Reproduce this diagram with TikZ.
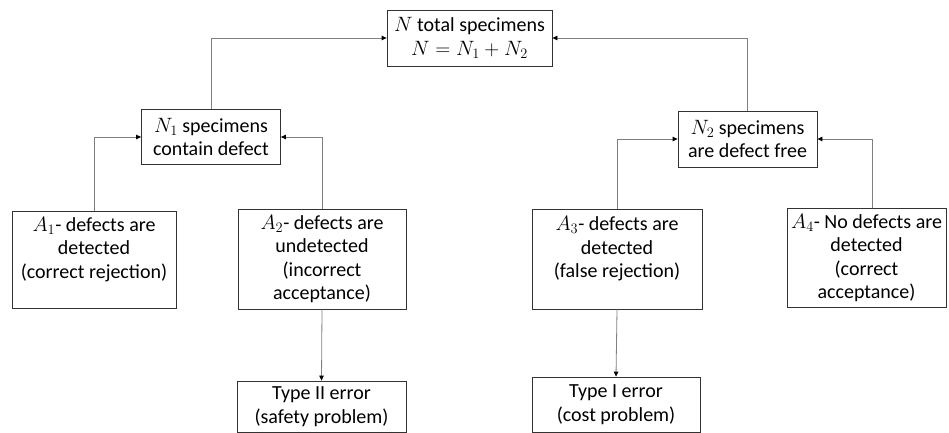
\documentclass[tikz,border=0pt]{standalone}
\usepackage{amsmath,amssymb}
\usepackage{fontspec}
\setmainfont{Carlito}
\usepackage{tikz}
\usetikzlibrary{arrows.meta, positioning, calc}

\begin{document}
\begin{tikzpicture}[
        x=1pt, y=-1pt,
        box/.style={draw=black!80, line width=0.8pt, align=center, inner sep=2pt, font=\fontsize{20}{23.5}\selectfont},
        link/.style={draw=black!50, line width=0.8pt, -{Triangle[length=5pt, width=4.5pt, color=black]}}
    ]
        \useasboundingbox (0,0) rectangle (949,433);

        \node[box, minimum width=165pt, minimum height=56pt] (total) at (469.5,38) {$N$ total specimens\\$N=N_1+N_2$};
        \node[box, minimum width=139pt, minimum height=55pt] (n1) at (211,137) {$N_1$ specimens\\contain defect};
        \node[box, minimum width=139pt, minimum height=56pt] (n2) at (747.5,139) {$N_2$ specimens\\are defect free};

        \node[box, minimum width=164pt, minimum height=97pt] (a1) at (94,259.5) {$A_1$- defects are\\detected\\(correct rejection)\\\mbox{}};
        \node[box, minimum width=168pt, minimum height=100pt] (a2) at (322,259) {$A_2$- defects are\\undetected\\(incorrect\\acceptance)};
        \node[box, minimum width=170pt, minimum height=100pt] (a3) at (617,259) {$A_3$- defects are\\detected\\(false rejection)\\\mbox{}};
        \node[box, minimum width=159pt, minimum height=99pt] (a4) at (866.5,258) {$A_4$- No defects are\\detected\\(correct\\acceptance)};

        \node[box, minimum width=169pt, minimum height=51pt] (t2) at (321.5,406.5) {Type II error\\(safety problem)};
        \node[box, minimum width=168pt, minimum height=55pt] (t1) at (616,404.5) {Type I error\\(cost problem)};

        \draw[link] (n1.north) |- (total.west);
        \draw[link] (n2.north) |- (total.east);
        \draw[link] (a1.north) |- (n1.west);
        \draw[link] (a2.north) |- (n1.east);
        \draw[link] (a3.north) |- (n2.west);
        \draw[link] ([xshift=5.5pt]a4.north) |- (n2.east);
        \draw[link] (a2.south) -- (t2.north);
        \draw[link] (a3.south) -- (t1.north);
    \end{tikzpicture}
\end{document}
